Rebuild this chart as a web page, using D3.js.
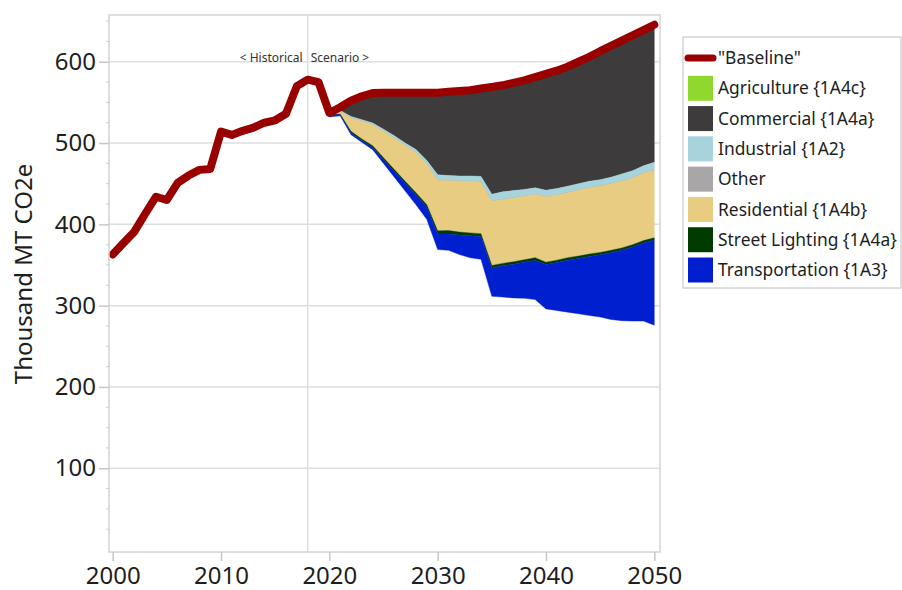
<!DOCTYPE html>
<html><head><meta charset="utf-8">
<script src="https://cdn.jsdelivr.net/npm/d3@7"></script>
<style>
body{margin:0;background:#fff;}
svg{display:block;font-family:"Noto Sans",sans-serif;}
</style>
</head><body>
<svg id="chart" width="902" height="590"></svg>
<script>
// ---------- DATA ----------
const baselineYears = [2000,2001,2002,2003,2004,2005,2006,2007,2008,2009,2010,2011,2012,2013,2014,2015,2016,2017,2018,2019,
  2020,2021,2022,2023,2024,2025,2026,2027,2028,2029,2030,2031,2032,2033,2034,2035,2036,2037,2038,2039,
  2040,2041,2042,2043,2044,2045,2046,2047,2048,2049,2050];
const baselineValues = [363,377,391,413,434,430,451,460,467,468,514,510,515,519,525,528,536,570,578,575,
  537,544,552,557.5,561.5,562,562,562,562,562,562,563,564,565,567,569,571,574,577,581,
  585,589,594,600,606,613,619.5,626,632.5,639,645.5];

const scenarioYears = [2020,2021,2022,2023,2024,2025,2026,2027,2028,2029,2030,2031,2032,2033,2034,2035,2036,2037,2038,2039,
  2040,2041,2042,2043,2044,2045,2046,2047,2048,2049,2050];
// reductions below baseline, per sector (stacked downward from the baseline)
const agriculture = [0,0,0,0,0,0,0,0,0,0, 0,0,0,0,0,0,0,0,0,0, 0,0,0,0,0,0,0,0,0,0,0];
const commercial = [0,4,19.2,28.7,36.8,45,53,62,70,83.5, 101,103,104.5,105.4,108,132,131,132.5,134,136, 143,145,147,150,153,158,161.5,164,166.5,167,169.2];
const industrial = [0,0.5,2,2,2.1,2.5,3,3,3.5,4.5, 7,6,6.5,6.6,7,8.5,9.5,9,8.5,8, 8.5,8,8,8,8,8,8,9,9,9,9.8];
const other = [0,0,0,0,0,0,0,0,0,0, 0,0,0,0,0,0,0,0,0,0, 0,0,0,0,0,0,0,0,0,0,0];
const residential = [1.5,4,16.4,21.8,25.8,32.5,38.5,44,49.5,50, 62,61.6,62.5,63.5,63.5,79,78.5,78.5,78,78, 80.1,80,80,81,81.5,81.5,82,82,82,83,83.1];
const streetLighting = [0.5,0.5,2,2,2.3,2.5,2.5,2.5,2.5,3, 4,4.4,3.5,3.5,3.9,3.5,3,3,3,3.5, 2.8,3,3,3,3,3,3,3,3,3,2.9];
const transportation = [3,1.5,2.1,2,2.6,4.5,7,9.5,12.5,15, 19,20,24,27.2,27.6,34.5,38.5,41.5,44.5,48, 54.6,59,64,68,72.5,76.5,82,86.5,91,96,104.5];

const sectorNames = ["Agriculture {1A4c}","Commercial {1A4a}","Industrial {1A2}","Other","Residential {1A4b}","Street Lighting {1A4a}","Transportation {1A3}"];
const sectorColors = ["#8fd92e","#3d3b3c","#a6d3dc","#a9a6a8","#e8cc82","#003c00","#0020cf"];
const sectorSeries = [agriculture, commercial, industrial, other, residential, streetLighting, transportation];
const baselineName = "\"Baseline\"";
const baselineColor = "#990000";

const xTicks = [2000,2010,2020,2030,2040,2050];
const yTicks = [100,200,300,400,500,600];
const yMinorTicks = [25,50,75,125,150,175,225,250,275,325,350,375,425,450,475,525,550,575,625,650];
const yTitle = "Thousand MT CO2e";
const dividerYear = 2018;

// ---------- LAYOUT ----------
const svg = d3.select("#chart");
const plot = {left:109, right:660, top:15, bottom:552};
const x = d3.scaleLinear().domain([2000,2050]).range([112.7,654.3]);
const y = d3.scaleLinear().domain([-3,657.5]).range([plot.bottom, plot.top]);
const gridColor = "#dedede";
const frameColor = "#d4d4d4";
const textColor = "#1e1e1e";

// gridlines
svg.append("g").selectAll("line").data(yTicks).join("line")
  .attr("x1", plot.left).attr("x2", plot.right)
  .attr("y1", d=>y(d)).attr("y2", d=>y(d))
  .attr("stroke", gridColor).attr("stroke-width", 1.5);

// divider line
svg.append("line")
  .attr("x1", x(dividerYear)).attr("x2", x(dividerYear))
  .attr("y1", plot.top).attr("y2", plot.bottom)
  .attr("stroke", gridColor).attr("stroke-width", 1.5);

// annotation
svg.append("text").attr("x", x(dividerYear)-5).attr("y", 61.5)
  .attr("text-anchor","end").attr("font-size",12).attr("fill","#333").text("< Historical");
svg.append("text").attr("x", x(dividerYear)+3).attr("y", 61.5)
  .attr("text-anchor","start").attr("font-size",12).attr("fill","#333").text("Scenario >");

// stacked wedges
const table = scenarioYears.map((yr,i)=>{
  const row = {year: yr, base: baselineValues[baselineYears.indexOf(yr)]};
  sectorNames.forEach((n,k)=>{ row[n] = sectorSeries[k][i]; });
  return row;
});
const stack = d3.stack().keys(sectorNames);
const layers = stack(table);
const area = d3.area()
  .x(d=>x(d.data.year))
  .y0(d=>y(d.data.base - d[0]))
  .y1(d=>y(d.data.base - d[1]));
svg.append("g").selectAll("path").data(layers).join("path")
  .attr("d", area)
  .attr("fill", (d,i)=>sectorColors[i])
  .attr("stroke", (d,i)=>sectorColors[i]).attr("stroke-width", 0.4);

// baseline line
const line = d3.line().x((d,i)=>x(baselineYears[i])).y(d=>y(d));
svg.append("path").datum(baselineValues)
  .attr("d", line).attr("fill","none")
  .attr("stroke", baselineColor).attr("stroke-width", 8)
  .attr("stroke-linejoin","round").attr("stroke-linecap","round");

// frame
svg.append("rect").attr("x", plot.left).attr("y", plot.top)
  .attr("width", plot.right-plot.left).attr("height", plot.bottom-plot.top)
  .attr("fill","none").attr("stroke", frameColor).attr("stroke-width", 1.5);

// y axis
const yAxis = svg.append("g").attr("transform", `translate(${plot.left},0)`)
  .call(d3.axisLeft(y).tickValues(yTicks).tickSize(10).tickPadding(3));
yAxis.select(".domain").remove();
yAxis.selectAll("line").attr("stroke", "#c8c8c8").attr("stroke-width",1.5);
yAxis.selectAll("text").attr("font-size",24).attr("fill",textColor).attr("font-family","Noto Sans");
svg.append("g").selectAll("line").data(yMinorTicks).join("line")
  .attr("x1", plot.left-3).attr("x2", plot.left)
  .attr("y1", d=>y(d)).attr("y2", d=>y(d))
  .attr("stroke", "#cfcfcf").attr("stroke-width",1);

// x axis
const xAxis = svg.append("g").attr("transform", `translate(0,${plot.bottom})`)
  .call(d3.axisBottom(x).tickValues(xTicks).tickSize(9).tickPadding(6).tickFormat(d3.format("d")));
xAxis.select(".domain").remove();
xAxis.selectAll("line").attr("stroke", "#c8c8c8").attr("stroke-width",1.5);
xAxis.selectAll("text").attr("font-size",24).attr("fill",textColor).attr("font-family","Noto Sans");

// y title
svg.append("text").attr("transform","translate(32,274) rotate(-90)")
  .attr("text-anchor","middle").attr("font-size",24).attr("fill",textColor).text(yTitle);

// legend
const lg = svg.append("g");
lg.append("rect").attr("x",683).attr("y",37).attr("width",218).attr("height",251)
  .attr("fill","#fff").attr("stroke", frameColor).attr("stroke-width",1.5);
const rowY = d3.scaleLinear().domain([0,7]).range([58,270]);
lg.append("line").attr("x1",688).attr("x2",713).attr("y1",rowY(0)).attr("y2",rowY(0))
  .attr("stroke", baselineColor).attr("stroke-width",7).attr("stroke-linecap","round");
lg.append("text").attr("x",718).attr("y",rowY(0)).attr("dy","0.35em")
  .attr("font-size",17.4).attr("fill",textColor).text(baselineName);
sectorNames.forEach((n,i)=>{
  const cy = rowY(i+1);
  lg.append("rect").attr("x",688).attr("y",cy-12.5).attr("width",25).attr("height",25)
    .attr("fill", sectorColors[i]);
  lg.append("text").attr("x",718).attr("y",cy).attr("dy","0.35em")
    .attr("font-size",17.4).attr("fill",textColor).text(n);
});
</script>
</body></html>
